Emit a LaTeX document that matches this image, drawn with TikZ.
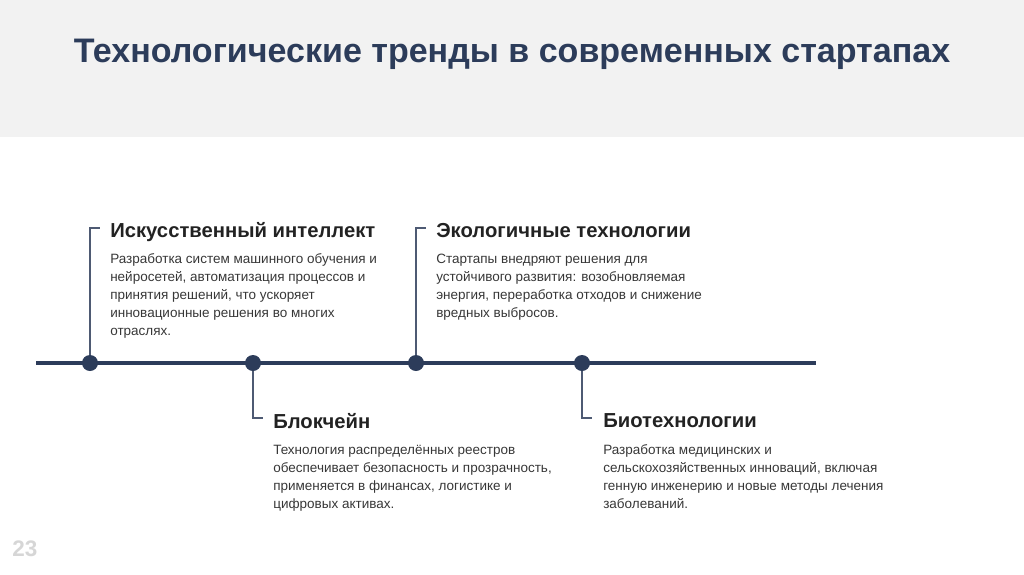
\documentclass[tikz,border=0pt]{standalone}
\usepackage{fontspec}
\setmainfont{Liberation Sans}
\usepackage{xcolor}
\definecolor{navy}{RGB}{44,60,90}
\definecolor{panel}{RGB}{242,242,242}
\definecolor{coal}{RGB}{34,34,34}
\definecolor{ink}{RGB}{55,55,55}
\definecolor{slate}{RGB}{78,90,115}
\definecolor{ash}{RGB}{214,214,214}
\usepackage{tikz}
\usetikzlibrary{positioning}
\tikzset{
  %% dots on the time axis
  tdot/.style={circle,fill=navy,minimum size=0.4cm,inner sep=0pt},
  %% axis and stems
  axisline/.style={draw=navy,line width=2.2pt},
  stem/.style={draw=slate,line width=1.3pt},
  %% texts
  trendhead/.style={anchor=west,inner sep=0pt,text=coal,
                    font=\fontsize{14.4}{16}\selectfont\bfseries},
  trendbody/.style={inner sep=0pt,align=left,text=ink,
                    font=\fontsize{9.6}{12.8}\selectfont},
}

\begin{document}
\begin{tikzpicture}[x=0.025cm,y=-0.025cm]
\useasboundingbox (0,0) rectangle (1024,574);
\fill[panel] (0,0) rectangle (1024,137);
\node[text=navy,font=\fontsize{24.2}{28}\selectfont\bfseries] (title) at (512,54)
  {Технологические тренды в современных стартапах};

%% time axis
\coordinate (axstart) at (36,363);
\coordinate (axend) at (816,363);
\draw[axisline] (axstart) -- (axend);
\node[tdot] (ai)  at (90,363) {};
\node[tdot] (bc)  at (253,363) {};
\node[tdot] (eco) at (416,363) {};
\node[tdot] (bio) at (582,363) {};

%% brackets
\coordinate (aitop) at (100,228);
\coordinate (ecotop) at (426,228);
\coordinate (bcbot) at (263,418);
\coordinate (biobot) at (592,418);
\draw[stem] (ai) |- (aitop);
\draw[stem] (eco) |- (ecotop);
\draw[stem] (bc) |- (bcbot);
\draw[stem] (bio) |- (biobot);

%% upper cards
\node[trendhead] (aihead) at (110,232) {Искусственный интеллект};
\node[trendbody,below right=11pt and 0pt of aihead.base west] (aibody)
  {Разработка систем машинного обучения и\\
   нейросетей, автоматизация процессов и\\
   принятия решений, что ускоряет\\
   инновационные решения во многих\\
   отраслях.};
\node[trendhead] (ecohead) at (436,231) {Экологичные технологии};
\node[trendbody,below right=11pt and 0pt of ecohead.base west] (ecobody)
  {Стартапы внедряют решения для\\
   устойчивого развития: возобновляемая\\
   энергия, переработка отходов и снижение\\
   вредных выбросов.};

%% lower cards
\node[trendhead] (bchead) at (273,421) {Блокчейн};
\node[trendbody,below right=12pt and 0pt of bchead.base west] (bcbody)
  {Технология распределённых реестров\\
   обеспечивает безопасность и прозрачность,\\
   применяется в финансах, логистике и\\
   цифровых активах.};
\node[trendhead] (biohead) at (603,421) {Биотехнологии};
\node[trendbody,below right=12pt and 0pt of biohead.base west] (biobody)
  {Разработка медицинских и\\
   сельскохозяйственных инноваций, включая\\
   генную инженерию и новые методы лечения\\
   заболеваний.};

\node[text=ash,font=\fontsize{16}{18}\selectfont\bfseries] (pageno) at (25,549) {23};
\end{tikzpicture}
\end{document}
